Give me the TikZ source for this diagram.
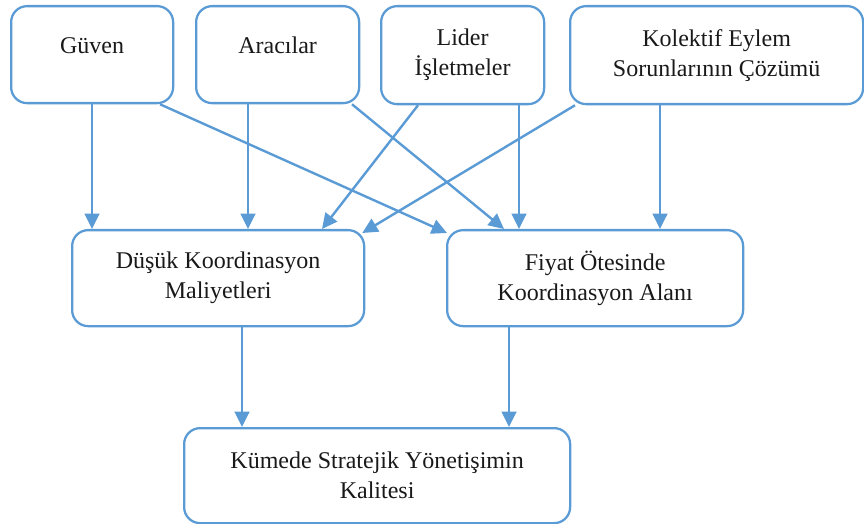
\documentclass[tikz,border=0pt]{standalone}
\usepackage{fontspec}
\setmainfont{Liberation Serif}
\usetikzlibrary{arrows.meta,positioning,calc}
\definecolor{lineblue}{RGB}{91,155,213}

\begin{document}
\begin{tikzpicture}[
  x=0.75pt, y=-0.75pt,
  font=\fontsize{18}{22.5}\selectfont,
  >={Triangle[length=11.5pt, width=11pt]},
  box/.style={draw=lineblue, line width=1.7pt, rounded corners=12pt, align=center, anchor=north west, inner sep=3pt, text=black!90},
  arrow/.style={->, draw=lineblue, line width=1.8pt}
]
  \useasboundingbox (0,0) rectangle (864,524);

  % top row
  \node[box, minimum width=121.5pt, minimum height=72.75pt, text height=12pt, text depth=14.2pt] (guven) at (10,5) {Güven};
  \node[box, minimum width=122.25pt, minimum height=72.75pt, text height=12pt, text depth=14.2pt] (araci) at (195,5) {Aracılar};
  \node[box, minimum width=122.25pt, minimum height=73.5pt] (lider) at (380,5) {Lider\\İşletmeler};
  \node[box, minimum width=219.75pt, minimum height=73.5pt] (kolektif) at (569,5) {Kolektif Eylem\\Sorunlarının Çözümü};

  % middle row
  \node[box, minimum width=219pt, minimum height=72pt] (dusuk) at (71,229) {Düşük Koordinasyon\\Maliyetleri};
  \node[box, minimum width=222pt, minimum height=72pt] (fiyat) at (446,229) {Fiyat Ötesinde\\Koordinasyon Alanı};

  % bottom
  \node[box, minimum width=289.5pt, minimum height=71.25pt] (kume) at (183,427) {Kümede Stratejik Yönetişimin\\Kalitesi};

  \draw[arrow] ($(guven.south west)+(82,0)$) -- ($(dusuk.north west)+(21,0)$);
  \draw[arrow] ($(guven.south west)+(150,0)$) -- ($(fiyat.north west)+(1,4)$);
  \draw[arrow] ($(araci.south west)+(53,0)$) -- ($(dusuk.north west)+(177,0)$);
  \draw[arrow] ($(araci.south west)+(157,0)$) -- ($(fiyat.north west)+(58,0)$);
  \draw[arrow] ($(lider.south west)+(38,0)$) -- ($(dusuk.north west)+(251,0)$);
  \draw[arrow] ($(lider.south west)+(139,0)$) -- ($(fiyat.north west)+(73,0)$);
  \draw[arrow] ($(kolektif.south west)+(6,0)$) -- ($(dusuk.north east)+(-3,4)$);
  \draw[arrow] ($(kolektif.south west)+(91,0)$) -- ($(fiyat.north west)+(214,0)$);
  \draw[arrow] ($(dusuk.south west)+(171,0)$) -- ($(kume.north west)+(59,0)$);
  \draw[arrow] ($(fiyat.south west)+(63,0)$) -- ($(kume.north west)+(326,0)$);
\end{tikzpicture}
\end{document}
